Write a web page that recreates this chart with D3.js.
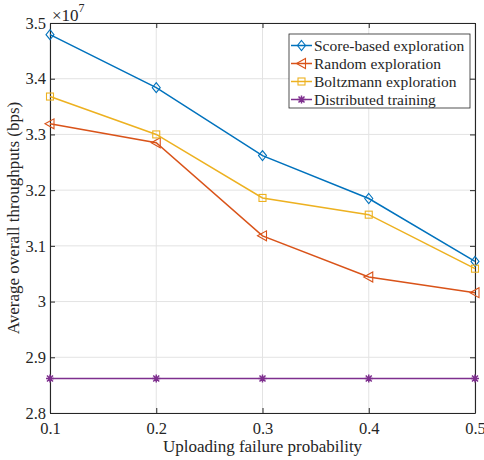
<!DOCTYPE html>
<html>
<head>
<meta charset="utf-8">
<script src="https://cdn.jsdelivr.net/npm/d3@7"></script>
<style>
  body { margin: 0; background: #fff; }
</style>
</head>
<body>
<script>
// data (values in units of 1e7 bps)
const probs = [0.1, 0.2, 0.3, 0.4, 0.5]
const scoreBased = [3.479, 3.384, 3.262, 3.185, 3.072]
const randomExp = [3.319, 3.285, 3.118, 3.044, 3.016]
const boltzmann = [3.368, 3.300, 3.186, 3.156, 3.059]
const distributed = [2.862, 2.862, 2.862, 2.862, 2.862]
const yTicks = [2.8, 2.9, 3, 3.1, 3.2, 3.3, 3.4, 3.5]
const xTicks = [0.1, 0.2, 0.3, 0.4, 0.5]

const series = [
  {name: "Score-based exploration", values: scoreBased, color: "#0072BD", marker: "diamond"},
  {name: "Random exploration", values: randomExp, color: "#D95319", marker: "triangle"},
  {name: "Boltzmann exploration", values: boltzmann, color: "#EDB120", marker: "square"},
  {name: "Distributed training", values: distributed, color: "#7E2F8E", marker: "star"}
]

const FONT = "'Liberation Serif', 'Times New Roman', serif"
const W = 484, H = 460
const margin = {top: 23, right: 9, bottom: 47, left: 50}
const width = W - margin.left - margin.right
const height = H - margin.top - margin.bottom

const svg = d3.select("body").append("svg")
  .attr("width", W).attr("height", H)
  .attr("font-family", FONT)

const g = svg.append("g")
  .attr("transform", "translate(" + margin.left + "," + margin.top + ")")

const x = d3.scaleLinear().domain([0.1, 0.5]).range([0, width])
const y = d3.scaleLinear().domain([2.8, 3.5]).range([height, 0])

// grid
g.append("g").selectAll("line").data(xTicks).enter().append("line")
  .attr("x1", d => x(d)).attr("x2", d => x(d))
  .attr("y1", 0).attr("y2", height)
  .attr("stroke", "#e3e3e3").attr("stroke-width", 1)
g.append("g").selectAll("line").data(yTicks).enter().append("line")
  .attr("y1", d => y(d)).attr("y2", d => y(d))
  .attr("x1", 0).attr("x2", width)
  .attr("stroke", "#e3e3e3").attr("stroke-width", 1)

// axes (ticks inward, box)
const fmt = d => d3.format("")(+d.toFixed(1))
const axisStyle = sel => {
  sel.attr("font-family", FONT).attr("font-size", 16.5)
  sel.select(".domain").attr("stroke", "#262626").attr("stroke-width", 1.1)
  sel.selectAll(".tick line").attr("stroke", "#262626")
  sel.selectAll(".tick text").attr("fill", "#262626")
}
g.append("g").attr("transform", "translate(0," + height + ")")
  .call(d3.axisBottom(x).tickValues(xTicks).tickFormat(fmt).tickSizeInner(-5).tickSizeOuter(0).tickPadding(9))
  .call(axisStyle)
g.append("g")
  .call(d3.axisLeft(y).tickValues(yTicks).tickFormat(fmt).tickSizeInner(-5).tickSizeOuter(0).tickPadding(4))
  .call(axisStyle)
g.append("g")
  .call(d3.axisTop(x).tickValues(xTicks).tickFormat("").tickSizeInner(-5).tickSizeOuter(0))
  .call(axisStyle)
g.append("g").attr("transform", "translate(" + width + ",0)")
  .call(d3.axisRight(y).tickValues(yTicks).tickFormat("").tickSizeInner(-5).tickSizeOuter(0))
  .call(axisStyle)

// exponent label
const expo = g.append("text").attr("x", 2).attr("y", -2)
  .attr("font-size", 17).attr("fill", "#262626")
expo.append("tspan").text("\u00d710")
expo.append("tspan").attr("dy", -9).attr("font-size", 12).text("7")

// axis labels
g.append("text")
  .attr("x", width / 2).attr("y", height + 39)
  .attr("text-anchor", "middle").attr("font-size", 17).attr("fill", "#262626")
  .text("Uploading failure probability")
g.append("text")
  .attr("transform", "translate(-31," + height / 2 + ") rotate(-90)")
  .attr("text-anchor", "middle").attr("font-size", 17).attr("fill", "#262626")
  .text("Average overall throughputs (bps)")

// markers
function drawMarker(sel, type, color) {
  if (type === "diamond") {
    sel.append("path").attr("d", "M0,-5L4,0L0,5L-4,0Z")
      .attr("fill", "none").attr("stroke", color).attr("stroke-width", 1.1)
  } else if (type === "triangle") {
    sel.append("path").attr("d", "M-5,0L4,-5L4,5Z")
      .attr("fill", "none").attr("stroke", color).attr("stroke-width", 1.1)
  } else if (type === "square") {
    sel.append("rect").attr("x", -3.5).attr("y", -3.5).attr("width", 7).attr("height", 7)
      .attr("fill", "none").attr("stroke", color).attr("stroke-width", 1.1)
  } else {
    sel.append("path").attr("d", "M0,-4V4M-4,0H4M-3,-3L3,3M-3,3L3,-3")
      .attr("stroke", color).attr("stroke-width", 1.5)
  }
}

const line = d3.line().x(d => x(d.p)).y(d => y(d.v))

series.forEach(s => {
  const pts = probs.map((p, i) => ({p: p, v: s.values[i]}))
  g.append("path").datum(pts)
    .attr("d", line).attr("fill", "none")
    .attr("stroke", s.color).attr("stroke-width", 1.5)
  pts.forEach(d => {
    const m = g.append("g").attr("transform", "translate(" + x(d.p) + "," + y(d.v) + ")")
    drawMarker(m, s.marker, s.color)
  })
})

// legend
const lg = g.append("g").attr("transform", "translate(" + (289 - margin.left) + "," + (34 - margin.top) + ")")
lg.append("rect").attr("width", 181).attr("height", 74)
  .attr("fill", "#fff").attr("stroke", "#262626").attr("stroke-width", 0.8)
series.forEach((s, i) => {
  const row = lg.append("g").attr("transform", "translate(0," + (11.5 + i * 18) + ")")
  row.append("line").attr("x1", 2).attr("x2", 23).attr("stroke", s.color).attr("stroke-width", 1.5)
  drawMarker(row.append("g").attr("transform", "translate(12.5,0)"), s.marker, s.color)
  row.append("text").attr("x", 25).attr("dy", "0.35em")
    .attr("font-size", 15.5).attr("fill", "#262626").text(s.name)
})
</script>
</body>
</html>
